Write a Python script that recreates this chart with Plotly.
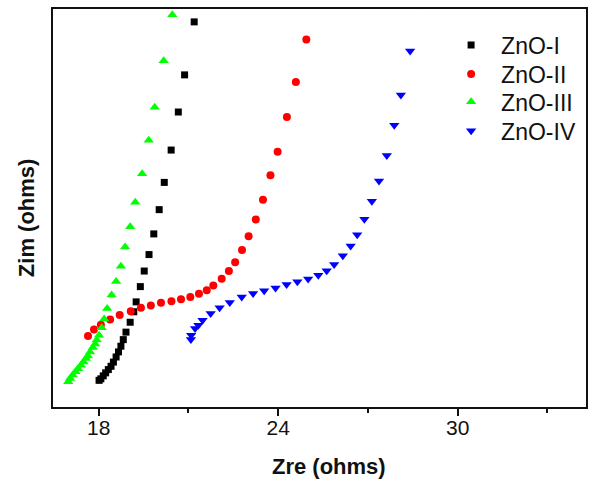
import plotly.graph_objects as go

# ZnO-I (black squares)
zno1_x = [18.01, 18.07, 18.15, 18.23, 18.32, 18.41, 18.49, 18.58, 18.66, 18.74, 18.82, 18.91,
          19.05, 19.17, 19.25, 19.39, 19.52, 19.68, 19.84, 20.02, 20.19, 20.42, 20.66, 20.87, 21.19]
zno1_y = [0.89, 0.94, 1.04, 1.14, 1.25, 1.36, 1.50, 1.67, 1.84, 2.03, 2.25, 2.50,
          2.83, 3.18, 3.51, 4.02, 4.54, 5.09, 5.78, 6.59, 7.50, 8.58, 9.85, 11.09, 12.86]

# ZnO-II (red circles)
zno2_x = [17.64, 17.84, 18.07, 18.38, 18.70, 19.07, 19.41, 19.74, 20.08, 20.43, 20.75, 21.06,
          21.35, 21.61, 21.83, 22.11, 22.35, 22.56, 22.79, 23.01, 23.25, 23.49, 23.74, 23.98,
          24.29, 24.59, 24.94]
zno2_y = [2.37, 2.59, 2.75, 2.92, 3.07, 3.20, 3.31, 3.39, 3.48, 3.53, 3.60, 3.67,
          3.78, 3.90, 4.06, 4.28, 4.54, 4.83, 5.24, 5.70, 6.26, 6.92, 7.74, 8.52,
          9.68, 10.85, 12.27]

# ZnO-III (green triangles up)
zno3_x = [16.98, 17.04, 17.13, 17.22, 17.31, 17.40, 17.49, 17.57, 17.64, 17.71, 17.80, 17.88,
          17.93, 18.01, 18.10, 18.18, 18.28, 18.43, 18.58, 18.74, 18.88, 19.05, 19.22, 19.45,
          19.67, 19.87, 20.17, 20.46]
zno3_y = [0.84, 0.95, 1.07, 1.18, 1.28, 1.39, 1.50, 1.62, 1.70, 1.84, 1.99, 2.10,
          2.24, 2.40, 2.65, 2.94, 3.29, 3.74, 4.19, 4.70, 5.34, 6.02, 6.84, 7.79,
          8.91, 10.01, 11.56, 13.10]

# ZnO-IV (blue triangles down)
zno4_x = [21.08, 21.09, 21.22, 21.33, 21.47, 21.74, 22.04, 22.38, 22.78, 23.16, 23.53, 23.91,
          24.28, 24.64, 25.00, 25.34, 25.62, 25.87, 26.16, 26.42, 26.64, 26.88, 27.13, 27.37,
          27.63, 27.88, 28.10, 28.41, 28.71]
zno4_y = [2.25, 2.40, 2.62, 2.73, 2.90, 3.12, 3.31, 3.49, 3.67, 3.79, 3.88, 3.97,
          4.09, 4.18, 4.27, 4.40, 4.55, 4.76, 5.05, 5.38, 5.75, 6.27, 6.87, 7.55,
          8.40, 9.41, 10.42, 11.89, 13.43]

x_tick_vals = [18, 24, 30]
x_tick_text = ["18", "24", "30"]
x_minor_vals = [21, 27, 33]

FONT = "Liberation Sans, Arial, sans-serif"
INK = "#111111"

series = [
    ("ZnO-I", zno1_x, zno1_y, "square", 7, "#000000"),
    ("ZnO-II", zno2_x, zno2_y, "circle", 8, "#FF0000"),
    ("ZnO-III", zno3_x, zno3_y, "triangle-up", 9, "#00FF00"),
    ("ZnO-IV", zno4_x, zno4_y, "triangle-down", 9, "#0000FF"),
]
legend_ids = ["legend", "legend2", "legend3", "legend4"]
legend_rows = [0.9095, 0.8366, 0.7669, 0.694]

fig = go.Figure()
for (name, xs, ys, sym, sz, col), lid in zip(series, legend_ids):
    fig.add_trace(go.Scatter(x=xs, y=ys, mode="markers", name=name, legend=lid,
                             marker=dict(symbol=sym, size=sz, color=col)))

PLOT_W = 593 - 53 - 7
legend_common = dict(x=(441.1 - 53) / PLOT_W, xanchor="left", yanchor="middle",
                     bgcolor="rgba(0,0,0,0)", font=dict(size=23, family=FONT, color=INK),
                     itemwidth=50)
legend_layout = {lid: dict(y=ry, **legend_common) for lid, ry in zip(legend_ids, legend_rows)}

fig.update_layout(
    width=593, height=485,
    margin=dict(l=53, r=7, t=9, b=78, autoexpand=False),
    paper_bgcolor="white", plot_bgcolor="white",
    font=dict(family=FONT, color=INK),
    showlegend=True,
    xaxis=dict(range=[16.47, 34.29], tickmode="array", tickvals=x_tick_vals, ticktext=x_tick_text,
               ticks="outside", ticklen=7, tickwidth=2, tickcolor=INK,
               showline=True, linewidth=2, linecolor=INK, mirror=True,
               showgrid=False, zeroline=False, ticklabelstandoff=-6,
               tickfont=dict(size=21, family=FONT, color=INK),
               minor=dict(tickvals=x_minor_vals, ticks="outside", ticklen=4, tickwidth=2,
                          tickcolor=INK, showgrid=False)),
    yaxis=dict(range=[0, 13.29], showticklabels=False, ticks="",
               showline=True, linewidth=2, linecolor=INK, mirror=True,
               showgrid=False, zeroline=False),
    annotations=[
        dict(text="<b>Zre (ohms)</b>", xref="paper", yref="paper", x=(328.5 - 53) / PLOT_W, y=-0.149,
             xanchor="center", yanchor="middle", showarrow=False,
             font=dict(size=22, family=FONT, color=INK)),
        dict(text="<b>Zim (ohms)</b>", xref="paper", yref="paper", x=(26 - 53) / PLOT_W, y=0.4745,
             xanchor="center", yanchor="middle", showarrow=False, textangle=-90,
             font=dict(size=22, family=FONT, color=INK)),
    ],
    **legend_layout,
)

fig.write_html("out.html", config={"displayModeBar": False},
               post_script="document.documentElement.style.overflow='hidden';"
                           "document.body.style.margin='0';document.body.style.overflow='hidden';")
